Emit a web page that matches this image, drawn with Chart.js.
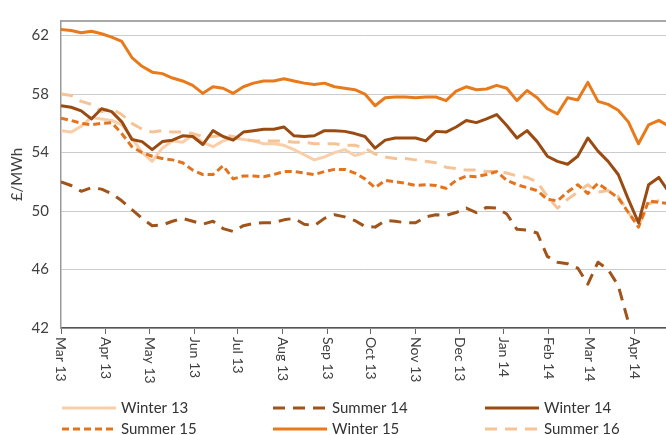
<!DOCTYPE html>
<html><head><meta charset="utf-8">
<script src="https://cdn.jsdelivr.net/npm/chart.js@4.4.1/dist/chart.umd.min.js"></script>
<style>html,body{margin:0;padding:0;background:#fff}#wrap{width:666px;height:435px;position:relative}</style>
</head><body><div id="wrap"><canvas id="c"></canvas></div>
<script>
// Weekly samples starting 1 Mar 2013
const startDate = Date.UTC(2013, 2, 1);
const weekStep = 7;
const tickLabels = ['Mar 13','Apr 13','May 13','Jun 13','Jul 13','Aug 13','Sep 13','Oct 13','Nov 13','Dec 13','Jan 14','Feb 14','Mar 14','Apr 14'];
const yTicks = [42, 46, 50, 54, 58, 62];
const seriesNames = ['Winter 13','Summer 14','Winter 14','Summer 15','Winter 15','Summer 16'];

const winter13 = [55.5,55.4,55.8,56.4,56.3,56.2,55.9,55.0,54.0,53.4, 54.3,54.8,54.7,55.2,54.7,54.4,54.8,55.0,54.9,54.8, 54.6,54.6,54.5,54.2,53.85,53.5,53.7,54.0,54.2,53.8, 54.0];
const summer14 = [52.0,51.75,51.35,51.6,51.5,51.2,50.7,50.1,49.5,49.0, 49.05,49.3,49.5,49.3,49.1,49.3,48.8,48.6,49.0,49.15, 49.2,49.2,49.4,49.5,49.1,49.0,49.5,49.75,49.6,49.35, 48.95,48.9,49.35,49.3,49.2,49.2,49.6,49.75,49.7,49.9, 50.2,49.9,50.25,50.2,49.8,48.75,48.7,48.5,46.9,46.5, 46.4,46.1,45.0,46.5,46.0,44.9,42.4];
const winter14 = [57.2,57.1,56.85,56.3,57.0,56.8,56.1,54.9,54.75,54.2, 54.75,54.85,55.15,55.1,54.55,55.5,55.1,54.85,55.4,55.5, 55.6,55.6,55.75,55.15,55.1,55.15,55.5,55.5,55.45,55.3, 55.1,54.3,54.85,55.0,55.0,55.0,54.8,55.45,55.4,55.75, 56.2,56.05,56.3,56.6,55.85,55.0,55.5,54.75,53.75,53.4, 53.2,53.75,55.0,54.1,53.4,52.5,50.8,49.2,51.8,52.3, 51.3];
const summer15 = [56.35,56.2,56.0,55.9,56.0,56.05,55.3,54.4,54.0,53.75, 53.6,53.5,53.3,52.8,52.5,52.5,53.1,52.2,52.4,52.4, 52.35,52.5,52.7,52.7,52.6,52.5,52.7,52.85,52.85,52.6, 52.2,51.6,52.1,52.0,51.9,51.75,51.8,51.75,51.55,52.1, 52.4,52.35,52.5,52.7,52.1,51.8,51.6,51.4,50.8,50.7, 51.3,51.8,51.2,51.9,51.4,50.9,49.9,48.9,50.7,50.6, 50.5];
const winter15 = [62.42,62.35,62.2,62.3,62.13,61.9,61.6,60.5,59.9,59.5, 59.4,59.1,58.9,58.6,58.05,58.5,58.4,58.05,58.5,58.75, 58.9,58.9,59.05,58.9,58.75,58.65,58.75,58.5,58.4,58.3, 58.0,57.2,57.75,57.8,57.8,57.75,57.8,57.8,57.55,58.2, 58.5,58.3,58.35,58.6,58.4,57.55,58.25,57.75,57.0,56.65, 57.75,57.6,58.8,57.5,57.3,56.9,56.1,54.6,55.9,56.2, 55.8];
const summer16 = [58.0,57.9,57.5,57.3,56.8,57.0,56.6,56.0,55.6,55.4, 55.5,55.4,55.4,55.3,55.1,55.1,55.2,55.1,54.9,54.8, 54.8,54.8,54.8,54.7,54.7,54.6,54.6,54.6,54.5,54.5, 54.3,53.9,53.7,53.6,53.6,53.5,53.4,53.3,53.0,52.9, 52.8,52.8,52.7,52.7,52.6,52.4,52.3,52.0,51.0,50.2, 50.8,51.3,51.8,51.3,51.4,51.0,49.9,49.0,50.5,50.7, 50.7];

const tickDays = tickLabels.map((_, k) => (Date.UTC(2013, 2 + k, 1) - startDate) / 86400000);
const toPts = arr => arr.map((v, i) => ({ x: i * weekStep, y: v }));

const styles = [
  { color: '#F9CFAA', dash: [] },
  { color: '#A0541A', dash: [12, 8] },
  { color: '#9A4B12', dash: [] },
  { color: '#E2741F', dash: [7, 4] },
  { color: '#E97A1C', dash: [] },
  { color: '#F6C396', dash: [12, 8] }
];
const seriesData = [winter13, summer14, winter14, summer15, winter15, summer16];

const datasets = seriesData.map((arr, k) => ({
  label: seriesNames[k],
  data: toPts(arr),
  borderColor: styles[k].color,
  backgroundColor: styles[k].color,
  borderDash: styles[k].dash,
  borderWidth: 3,
  pointRadius: 0,
  fill: false,
  order: [6, 4, 2, 3, 1, 5][k]
}));

const FONT = 'Lato';
const decor = {
  id: 'decor',
  afterDraw(chart) {
    const ctx = chart.ctx, ca = chart.chartArea, xs = chart.scales.x;
    ctx.save();
    // top border
    ctx.strokeStyle = '#a8a8a8'; ctx.lineWidth = 2; ctx.setLineDash([]);
    ctx.beginPath(); ctx.moveTo(ca.left, ca.top); ctx.lineTo(ca.right, ca.top); ctx.stroke();
    // x labels rotated clockwise
    ctx.fillStyle = '#404040'; ctx.font = '14px ' + FONT;
    tickDays.forEach((d, k) => {
      const px = xs.getPixelForValue(d);
      ctx.save(); ctx.translate(px, xs.top + 9); ctx.rotate(Math.PI / 2);
      ctx.textAlign = 'left'; ctx.textBaseline = 'middle';
      ctx.fillText(tickLabels[k], 0, 0);
      ctx.restore();
    });
    // legend
    const cols = [62, 273, 485], rows = [408, 429], sw = 54;
    ctx.font = '15px ' + FONT; ctx.textBaseline = 'middle'; ctx.textAlign = 'left';
    chart.data.datasets.forEach((ds, k) => {
      const x0 = cols[k % 3], y = rows[Math.floor(k / 3)];
      ctx.strokeStyle = ds.borderColor; ctx.lineWidth = ds.borderWidth;
      ctx.setLineDash(ds.borderDash || []);
      ctx.beginPath(); ctx.moveTo(x0, y); ctx.lineTo(x0 + sw, y); ctx.stroke();
      ctx.setLineDash([]);
      ctx.fillStyle = '#333';
      ctx.fillText(ds.label, x0 + sw + 5, y);
    });
    ctx.restore();
  }
};

new Chart(document.getElementById('c'), {
  type: 'line',
  data: { datasets },
  plugins: [decor],
  options: {
    responsive: true, maintainAspectRatio: false, animation: false,
    layout: { padding: { top: 13, right: 0, left: 0, bottom: 0 } },
    plugins: { legend: { display: false }, tooltip: { enabled: false } },
    elements: { line: { tension: 0, borderJoinStyle: 'round', borderCapStyle: 'butt' } },
    scales: {
      x: {
        type: 'linear', min: 0, max: 418,
        afterBuildTicks: s => { s.ticks = tickDays.map(v => ({ value: v })); },
        afterFit: s => { s.height = 107; },
        grid: { drawOnChartArea: false, drawTicks: true, tickLength: 6, color: '#666', lineWidth: 1 },
        border: { color: '#555', width: 1.5 },
        ticks: { display: false }
      },
      y: {
        min: 42, max: 63,
        afterBuildTicks: s => { s.ticks = yTicks.map(v => ({ value: v })); },
        afterFit: s => { s.width = 61; },
        grid: { color: '#cccccc', lineWidth: 1, drawTicks: false },
        border: { color: '#999', width: 1.5 },
        ticks: { font: { family: FONT, size: 15 }, color: '#404040', padding: 12 },
        title: { display: true, text: '£/MWh', font: { family: FONT, size: 15 }, color: '#404040', padding: { top: 8, bottom: 0 } }
      }
    }
  }
});
</script></body></html>
